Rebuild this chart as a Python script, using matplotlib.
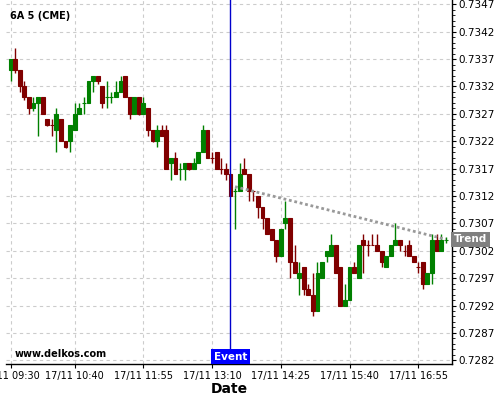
import numpy as np
import matplotlib.pyplot as plt
from matplotlib.ticker import MultipleLocator, FormatStrFormatter
import matplotlib.transforms as mtransforms

# 5-minute candles, 6A futures, 17/11
opens = [0.7335, 0.7337, 0.7335, 0.7332, 0.7330, 0.7328, 0.7329, 0.7330, 0.7326, 0.7325,
         0.7324, 0.7326, 0.7322, 0.7322, 0.7324, 0.7327, 0.7329, 0.7329, 0.7333, 0.7334,
         0.7332, 0.7330, 0.7330, 0.7330, 0.7331, 0.7334, 0.7330, 0.7327, 0.7330, 0.7327,
         0.7328, 0.7324, 0.7322, 0.7324, 0.7324, 0.7318, 0.7319, 0.7317, 0.7317, 0.7318,
         0.7317, 0.7318, 0.7320, 0.7324, 0.7319, 0.7320, 0.7317, 0.7317, 0.7316, 0.7313,
         0.7313, 0.7317, 0.7316, 0.7313, 0.7312, 0.7310, 0.7308, 0.7306, 0.7304, 0.7301,
         0.7307, 0.7308, 0.7300, 0.7297, 0.7299, 0.7295, 0.7294, 0.7291, 0.7297, 0.7301,
         0.7301, 0.7303, 0.7299, 0.7292, 0.7293, 0.7299, 0.7297, 0.7304, 0.7303, 0.7303,
         0.7303, 0.7302, 0.7299, 0.7301, 0.7303, 0.7304, 0.7302, 0.7303, 0.7301, 0.7299,
         0.7300, 0.7296, 0.7298, 0.7304, 0.7302, 0.7304]
highs = [0.7337, 0.7339, 0.7335, 0.7333, 0.7330, 0.7330, 0.7330, 0.7330, 0.7326, 0.7326,
         0.7328, 0.7326, 0.7322, 0.7325, 0.7329, 0.7329, 0.7330, 0.7333, 0.7334, 0.7334,
         0.7332, 0.7333, 0.7331, 0.7333, 0.7334, 0.7334, 0.7330, 0.7330, 0.7330, 0.7330,
         0.7328, 0.7324, 0.7325, 0.7325, 0.7325, 0.7319, 0.7320, 0.7318, 0.7318, 0.7318,
         0.7319, 0.7320, 0.7325, 0.7324, 0.7320, 0.7320, 0.7319, 0.7318, 0.7316, 0.73135,
         0.7318, 0.7319, 0.7316, 0.7313, 0.7312, 0.7310, 0.7308, 0.7306, 0.7304, 0.7306,
         0.7311, 0.7308, 0.7303, 0.7300, 0.7299, 0.7296, 0.7298, 0.7300, 0.7300, 0.7302,
         0.7305, 0.7303, 0.7299, 0.7296, 0.7299, 0.7300, 0.7303, 0.7305, 0.7304, 0.7305,
         0.7305, 0.7302, 0.7301, 0.7303, 0.7307, 0.7304, 0.7303, 0.7304, 0.7301, 0.7300,
         0.7300, 0.7298, 0.7305, 0.7305, 0.7305, 0.73045]
lows = [0.7333, 0.73345, 0.7331, 0.73295, 0.7327, 0.73275, 0.7323, 0.7327, 0.73248, 0.7323,
        0.7320, 0.7322, 0.73208, 0.7320, 0.7324, 0.7327, 0.7327, 0.7329, 0.7331, 0.73325,
        0.7328, 0.7328, 0.7329, 0.7330, 0.7331, 0.7330, 0.7326, 0.7327, 0.73268, 0.7327,
        0.7323, 0.73218, 0.7321, 0.7323, 0.7317, 0.7315, 0.7316, 0.7315, 0.7315, 0.73168,
        0.7317, 0.7318, 0.7320, 0.7319, 0.7318, 0.7317, 0.7316, 0.7315, 0.7312, 0.7306,
        0.7313, 0.7316, 0.7311, 0.7311, 0.7308, 0.7306, 0.7305, 0.7304, 0.7300, 0.7301,
        0.7306, 0.7297, 0.7298, 0.7294, 0.7294, 0.7294, 0.7290, 0.7291, 0.7297, 0.7300,
        0.7301, 0.7298, 0.7292, 0.7292, 0.7293, 0.7298, 0.7297, 0.7298, 0.7301, 0.7303,
        0.7302, 0.7299, 0.7299, 0.7301, 0.7303, 0.7302, 0.7301, 0.7301, 0.7300, 0.7298,
        0.7295, 0.7296, 0.7296, 0.7302, 0.7302, 0.73035]
closes = [0.7337, 0.7335, 0.7332, 0.7330, 0.7328, 0.7329, 0.7330, 0.7327, 0.7325, 0.7325,
          0.7327, 0.7322, 0.7321, 0.7325, 0.7327, 0.7328, 0.7329, 0.7333, 0.7334, 0.7333,
          0.7329, 0.7330, 0.7330, 0.7331, 0.7333, 0.7330, 0.7327, 0.7330, 0.7327, 0.7329,
          0.7324, 0.7322, 0.7324, 0.7323, 0.7317, 0.7319, 0.7316, 0.7317, 0.7318, 0.7317,
          0.7318, 0.7320, 0.7324, 0.7319, 0.7319, 0.7317, 0.7317, 0.7316, 0.7312, 0.7313,
          0.7316, 0.7316, 0.7313, 0.7313, 0.7310, 0.7308, 0.7305, 0.7304, 0.7301, 0.7306,
          0.7308, 0.7300, 0.7298, 0.7298, 0.7295, 0.7294, 0.7291, 0.7298, 0.7300, 0.7302,
          0.7303, 0.7298, 0.7292, 0.7293, 0.7299, 0.7298, 0.7303, 0.7303, 0.7303, 0.7303,
          0.7302, 0.7300, 0.7301, 0.7303, 0.7304, 0.7303, 0.7302, 0.7301, 0.7300, 0.7299,
          0.7296, 0.7298, 0.7304, 0.7302, 0.7304, 0.7304]
# dojis (open == close) that are drawn green
doji_up = {16, 21, 22, 37, 49, 95}

tick_pos = [0, 14, 29, 44, 59, 74, 89]
tick_labels = ["17/11 09:30", "17/11 10:40", "17/11 11:55", "17/11 13:10",
               "17/11 14:25", "17/11 15:40", "17/11 16:55"]

event_idx = 48
trend_idx = [49, 95]
trend_val = [0.73137, 0.73041]

GREEN = '#008000'
RED = '#800000'

fig = plt.figure(figsize=(5, 4), dpi=100)
ax = fig.add_axes([0.012, 0.09, 0.8914, 0.91])

x = np.arange(len(opens))
o = np.array(opens)
c = np.array(closes)
cols = []
for i in range(len(o)):
    if c[i] > o[i] or (c[i] == o[i] and i in doji_up):
        cols.append(GREEN)
    else:
        cols.append(RED)

ax.vlines(x, lows, highs, colors=cols, linewidth=1, zorder=3)
ax.bar(x, np.abs(c - o), bottom=np.minimum(o, c), width=0.85, color=cols,
       edgecolor=cols, linewidth=0.8, zorder=4)

# trend
ax.plot(trend_idx, trend_val, color='#999999', linewidth=2, linestyle=(0, (1, 1)), zorder=5)

# event marker
ax.axvline(event_idx, color='#0000cc', linewidth=1, zorder=6)
trans = mtransforms.blended_transform_factory(ax.transData, ax.transAxes)
ax.text(event_idx, 0.02, "Event", transform=trans, ha='center', va='center',
        color='white', fontsize=7.5, fontweight='bold', zorder=7,
        bbox=dict(boxstyle='square,pad=0.25', facecolor='#0000ff', edgecolor='none'))

trans2 = mtransforms.blended_transform_factory(ax.transAxes, ax.transData)
ax.text(1.005, trend_val[-1], "Trend", transform=trans2, ha='left', va='center',
        color='white', fontsize=7.5, fontweight='bold', zorder=7, clip_on=False,
        bbox=dict(boxstyle='square,pad=0.25', facecolor='#808080', edgecolor='none'))

ax.text(0.009, 0.956, "6A 5 (CME)", transform=ax.transAxes, fontsize=7,
        fontweight='bold', va='center', ha='left')
ax.text(0.02, 0.027, "www.delkos.com", transform=ax.transAxes, fontsize=7,
        fontweight='bold', va='center', ha='left')

ax.set_xlim(-1, 96.3)
ax.set_ylim(0.728132, 0.734779)

ax.yaxis.tick_right()
ax.yaxis.set_minor_locator(MultipleLocator(0.0001))
ax.yaxis.set_major_formatter(FormatStrFormatter('%.4f'))
ax.set_yticks(np.arange(0.7282, 0.73475, 0.0005))
ax.set_xticks(tick_pos)
ax.set_xticklabels(tick_labels)
ax.tick_params(axis='both', labelsize=7.5, length=3, width=0.8, pad=2)
ax.tick_params(axis='x', labelsize=7)
ax.tick_params(axis='y', which='minor', length=2, width=0.6)

for s in ['left', 'top']:
    ax.spines[s].set_visible(False)
ax.spines['right'].set_linewidth(1)
ax.spines['bottom'].set_linewidth(1)

ax.grid(True, color='#cccccc', linestyle=(0, (3, 3)), linewidth=0.8, zorder=0)
ax.set_axisbelow(True)
ax.set_xlabel("Date", fontsize=10, fontweight='bold', labelpad=1)

fig.savefig("out.png", dpi=100)
